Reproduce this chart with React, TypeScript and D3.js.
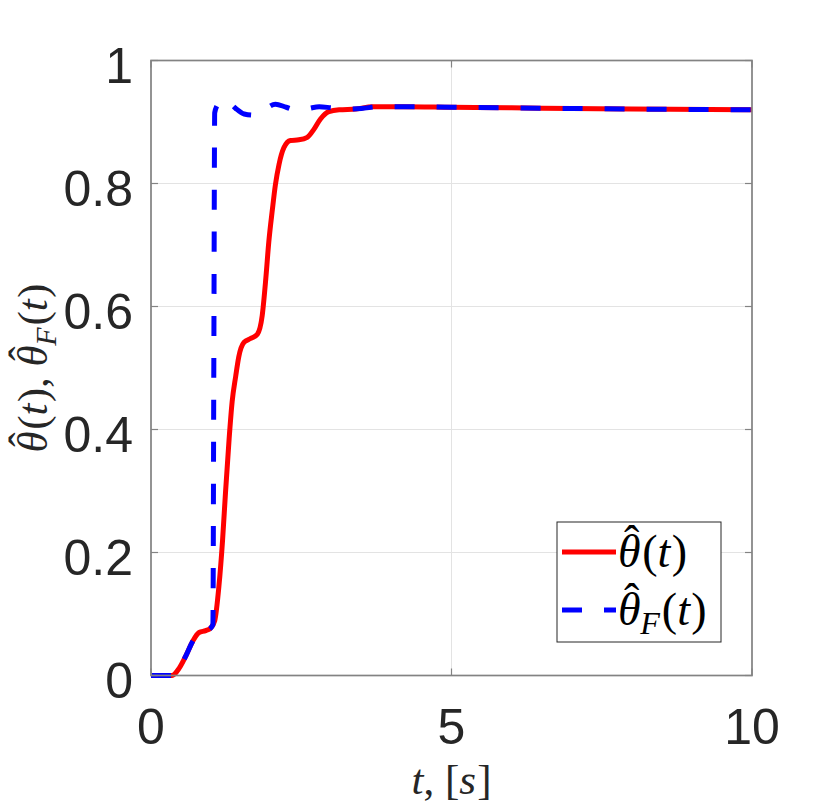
import { useEffect, useRef } from "react";
import * as d3 from "d3";

// theta_hat(t)
const tRed = [0, 0.35, 0.47, 0.58, 0.69, 0.8, 0.91, 0.99, 1.06, 1.13, 1.19, 1.24, 1.3, 1.35, 1.41, 1.46, 1.55, 1.66, 1.77, 1.85, 1.91, 1.96, 2.02, 2.07, 2.13, 2.21, 2.32, 2.46, 2.6, 2.71, 2.82, 2.96, 3.13, 3.41, 3.68, 4.2, 5, 6, 7, 8, 10];
const vRed = [0, 0, 0.012, 0.032, 0.055, 0.07, 0.073, 0.077, 0.089, 0.145, 0.219, 0.298, 0.385, 0.445, 0.487, 0.518, 0.542, 0.548, 0.555, 0.585, 0.645, 0.705, 0.758, 0.798, 0.831, 0.858, 0.87, 0.871, 0.875, 0.888, 0.905, 0.917, 0.92, 0.921, 0.925, 0.925, 0.924, 0.923, 0.922, 0.921, 0.92];

// theta_hat_F(t)
const tBlue = [0, 0.35, 0.47, 0.58, 0.69, 0.8, 0.91, 0.99, 1.03, 1.045, 1.06, 1.1, 1.16, 1.23, 1.32, 1.41, 1.55, 1.72, 1.9, 2.07, 2.25, 2.43, 2.62, 2.8, 3.0, 3.2, 3.5, 3.8, 4.2, 5, 6, 7, 8, 10];
const vBlue = [0, 0, 0.012, 0.032, 0.055, 0.07, 0.073, 0.077, 0.083, 0.5, 0.915, 0.927, 0.934, 0.936, 0.93, 0.922, 0.913, 0.911, 0.921, 0.929, 0.924, 0.919, 0.922, 0.925, 0.923, 0.921, 0.922, 0.925, 0.925, 0.924, 0.923, 0.922, 0.921, 0.92];

const xTicks = [0, 5, 10];
const yTicks = [0, 0.2, 0.4, 0.6, 0.8, 1];
const yTickLabels = ["0", "0.2", "0.4", "0.6", "0.8", "1"];

const SERIF = "'Liberation Serif', 'Times New Roman', serif";
const SANS = "'Liberation Sans', Arial, Helvetica, sans-serif";

// theta with a hat, optional subscript, then (t)
function appendThetaHat(text: any, fs: number, sub?: string) {
  text.append("tspan").attr("font-style", "italic").text("θ");
  text.append("tspan").attr("dx", -0.36 * fs).attr("dy", -0.2 * fs).text("ˆ");
  if (sub) {
    text.append("tspan").attr("dx", 0.02 * fs).attr("dy", 0.4 * fs)
      .attr("font-style", "italic").attr("font-size", fs * 0.7).text(sub);
    text.append("tspan").attr("dx", 0.04 * fs).attr("dy", -0.2 * fs).text("(");
  } else {
    text.append("tspan").attr("dx", 0.06 * fs).attr("dy", 0.2 * fs).text("(");
  }
  text.append("tspan").attr("font-style", "italic").text("t");
  text.append("tspan").attr("dx", 0.03 * fs).text(")");
}

export default function App() {
  const svgRef = useRef<SVGSVGElement | null>(null);

  useEffect(() => {
    document.body.style.margin = "0";
    const W = 830, H = 809;
    const margin = { top: 60.5, right: 78, bottom: 133.5, left: 151 };
    const width = W - margin.left - margin.right;
    const height = H - margin.top - margin.bottom;

    const svg = d3.select(svgRef.current);
    svg.selectAll("*").remove();
    svg.attr("width", W).attr("height", H);
    svg.append("rect").attr("width", W).attr("height", H).attr("fill", "#ffffff");

    const g = svg.append("g").attr("transform", `translate(${margin.left},${margin.top})`);

    const x = d3.scaleLinear().domain([0, 10]).range([0, width]);
    const y = d3.scaleLinear().domain([0, 1]).range([height, 0]);

    // grid
    g.append("g").selectAll("line").data(xTicks).join("line")
      .attr("x1", d => x(d)).attr("x2", d => x(d)).attr("y1", 0).attr("y2", height)
      .attr("stroke", "#e3e3e3").attr("stroke-width", 1);
    g.append("g").selectAll("line").data(yTicks).join("line")
      .attr("x1", 0).attr("x2", width).attr("y1", d => y(d)).attr("y2", d => y(d))
      .attr("stroke", "#e3e3e3").attr("stroke-width", 1);

    const redData = tRed.map((t, i) => [t, vRed[i]] as [number, number]);
    const blueData = tBlue.map((t, i) => [t, vBlue[i]] as [number, number]);
    const line = d3.line<[number, number]>().x(d => x(d[0])).y(d => y(d[1])).curve(d3.curveMonotoneX);

    const plot = g.append("g");
    plot.append("path").datum(redData).attr("fill", "none").attr("stroke", "#ff0000")
      .attr("stroke-width", 5).attr("stroke-linejoin", "round").attr("d", line);
    plot.append("path").datum(blueData).attr("fill", "none").attr("stroke", "#0000ff")
      .attr("stroke-width", 5).attr("stroke-dasharray", "20 22").attr("d", line);

    // axes box
    const axisColor = "#838383";
    g.append("rect").attr("x", 0).attr("y", 0).attr("width", width).attr("height", height)
      .attr("fill", "none").attr("stroke", axisColor).attr("stroke-width", 1.7);

    const tl = 7;
    const ticks = g.append("g").attr("stroke", axisColor).attr("stroke-width", 1.2);
    xTicks.forEach(t => {
      ticks.append("line").attr("x1", x(t)).attr("x2", x(t)).attr("y1", height).attr("y2", height - tl);
      ticks.append("line").attr("x1", x(t)).attr("x2", x(t)).attr("y1", 0).attr("y2", tl);
    });
    yTicks.forEach(t => {
      ticks.append("line").attr("x1", 0).attr("x2", tl).attr("y1", y(t)).attr("y2", y(t));
      ticks.append("line").attr("x1", width).attr("x2", width - tl).attr("y1", y(t)).attr("y2", y(t));
    });

    // tick labels
    g.append("g").selectAll("text").data(xTicks).join("text")
      .attr("x", d => x(d)).attr("y", height + 68.5)
      .attr("text-anchor", "middle").attr("font-family", SANS).attr("font-size", 50)
      .attr("fill", "#262626").text(d => String(d));
    g.append("g").selectAll("text").data(yTicks).join("text")
      .attr("x", -18).attr("y", d => y(d) + 22)
      .attr("text-anchor", "end").attr("font-family", SANS).attr("font-size", 50)
      .attr("fill", "#262626").text((d, i) => yTickLabels[i]);

    // x label
    const fsL = 43;
    const xl = g.append("text").attr("x", width / 2).attr("y", height + 118)
      .attr("text-anchor", "middle").attr("font-family", SERIF).attr("font-size", fsL).attr("fill", "#262626");
    xl.append("tspan").attr("font-style", "italic").text("t");
    xl.append("tspan").text(", [");
    xl.append("tspan").attr("font-style", "italic").text("s");
    xl.append("tspan").attr("dx", 0.03 * fsL).text("]");

    // y label
    const yl = g.append("text")
      .attr("transform", `translate(${47 - margin.left},${height / 2}) rotate(-90)`)
      .attr("text-anchor", "middle").attr("font-family", SERIF).attr("font-size", fsL).attr("fill", "#262626");
    appendThetaHat(yl, fsL);
    yl.append("tspan").text(", ");
    appendThetaHat(yl, fsL, "F");

    // legend
    const fsG = 46;
    const lg = svg.append("g");
    const lx = 557, ly = 522, lw = 164, lh = 120;
    lg.append("rect").attr("x", lx).attr("y", ly).attr("width", lw).attr("height", lh)
      .attr("fill", "#ffffff").attr("stroke", "#262626").attr("stroke-width", 1);
    const items = [
      { color: "#ff0000", dash: null, sub: undefined, yy: 552 },
      { color: "#0000ff", dash: "20 22", sub: "F", yy: 610 },
    ];
    items.forEach(it => {
      const l = lg.append("line").attr("x1", lx + 5).attr("x2", lx + 59).attr("y1", it.yy).attr("y2", it.yy)
        .attr("stroke", it.color).attr("stroke-width", 5);
      if (it.dash) l.attr("stroke-dasharray", it.dash);
      const tx = lg.append("text").attr("x", lx + 61).attr("y", it.yy + 15)
        .attr("font-family", SERIF).attr("font-size", fsG).attr("fill", "#000000");
      appendThetaHat(tx, fsG, it.sub);
    });
  }, []);

  return <svg ref={svgRef}></svg>;
}
